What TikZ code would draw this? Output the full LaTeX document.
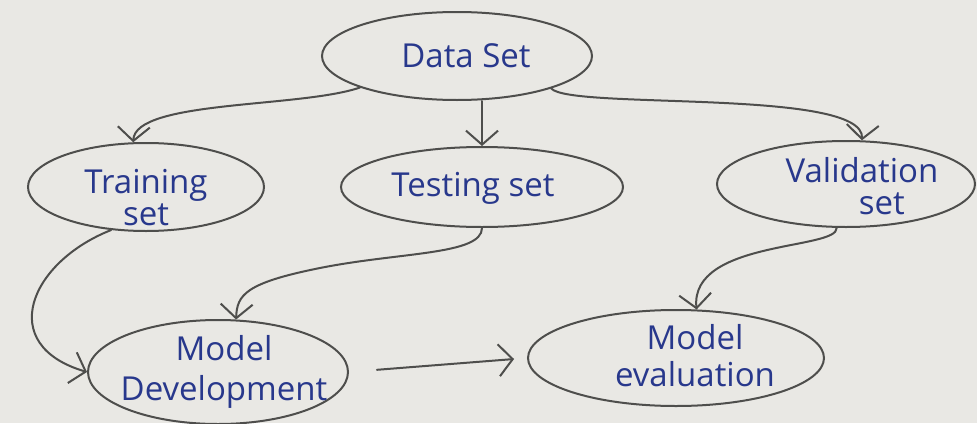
\documentclass[tikz,border=0pt]{standalone}
\usepackage{fontspec}
\setmainfont{Open Sans}
\usetikzlibrary{arrows.meta,shapes.geometric,calc}
\definecolor{paper}{RGB}{233,232,228}
\definecolor{pencil}{RGB}{78,78,76}
\definecolor{ink}{RGB}{40,56,140}
\begin{document}
\begin{tikzpicture}[x=1pt,y=-1pt,
  bubble/.style={ellipse, draw=pencil, line width=2pt, inner sep=0pt},
  lbl/.style={text=ink, align=center, inner sep=0pt},
  big/.style={font=\fontsize{33}{32}\selectfont},
  arr/.style={draw=pencil, line width=2pt, line cap=round,
    -{Straight Barb[length=14pt,width=32pt]}}]
\path[use as bounding box, fill=paper] (0,0) rectangle (977,423);
% ellipses
\node[bubble, minimum width=270pt, minimum height=88pt] (ds) at (457,56) {};
\node[bubble, minimum width=236pt, minimum height=88pt] (tr) at (146,187) {};
\node[bubble, minimum width=282pt, minimum height=80pt] (te) at (482,187) {};
\node[bubble, minimum width=258pt, minimum height=86pt] (va) at (846,184) {};
\node[bubble, minimum width=260pt, minimum height=104pt] (md) at (218,372) {};
\node[bubble, minimum width=296pt, minimum height=96pt] (me) at (676,358) {};
% labels
\node[lbl, big] (dsT) at (466,56) {Data Set};
\node[lbl, big] (trT) at (146,198) {Training\\set};
\node[lbl, big] (teT) at (473,188) {Testing set};
\node[lbl, big] (vaT) at (862,186) {Validation\\\hspace*{1.2em}set};
\node[lbl, font=\fontsize{33}{40}\selectfont] (mdT) at (224,372) {Model\\Development};
\node[lbl, font=\fontsize{33}{37}\selectfont] (meT) at (695,356) {Model\\evaluation};
% connectors
\draw[arr] (ds.198) .. controls (300,108) and (135,100) .. (tr.106);
\draw[arr] (te.north |- ds.south) -- (te.north);
\draw[arr] (ds.341) .. controls (570,110) and (865,88) .. (va.70);
\draw[arr] (tr.231) .. controls (30,262) and (-5,345) .. (md.west);
\draw[arr] (te.south) .. controls (482,255) and (400,252) .. (320,268)
   .. controls (245,283) and (237,295) .. (md.71);
\draw[arr] (va.258) .. controls (838,250) and (690,240) .. (me.67);
\draw[arr, shorten <=28pt, shorten >=13pt] (md.east) -- (me.west);
\end{tikzpicture}
\end{document}
